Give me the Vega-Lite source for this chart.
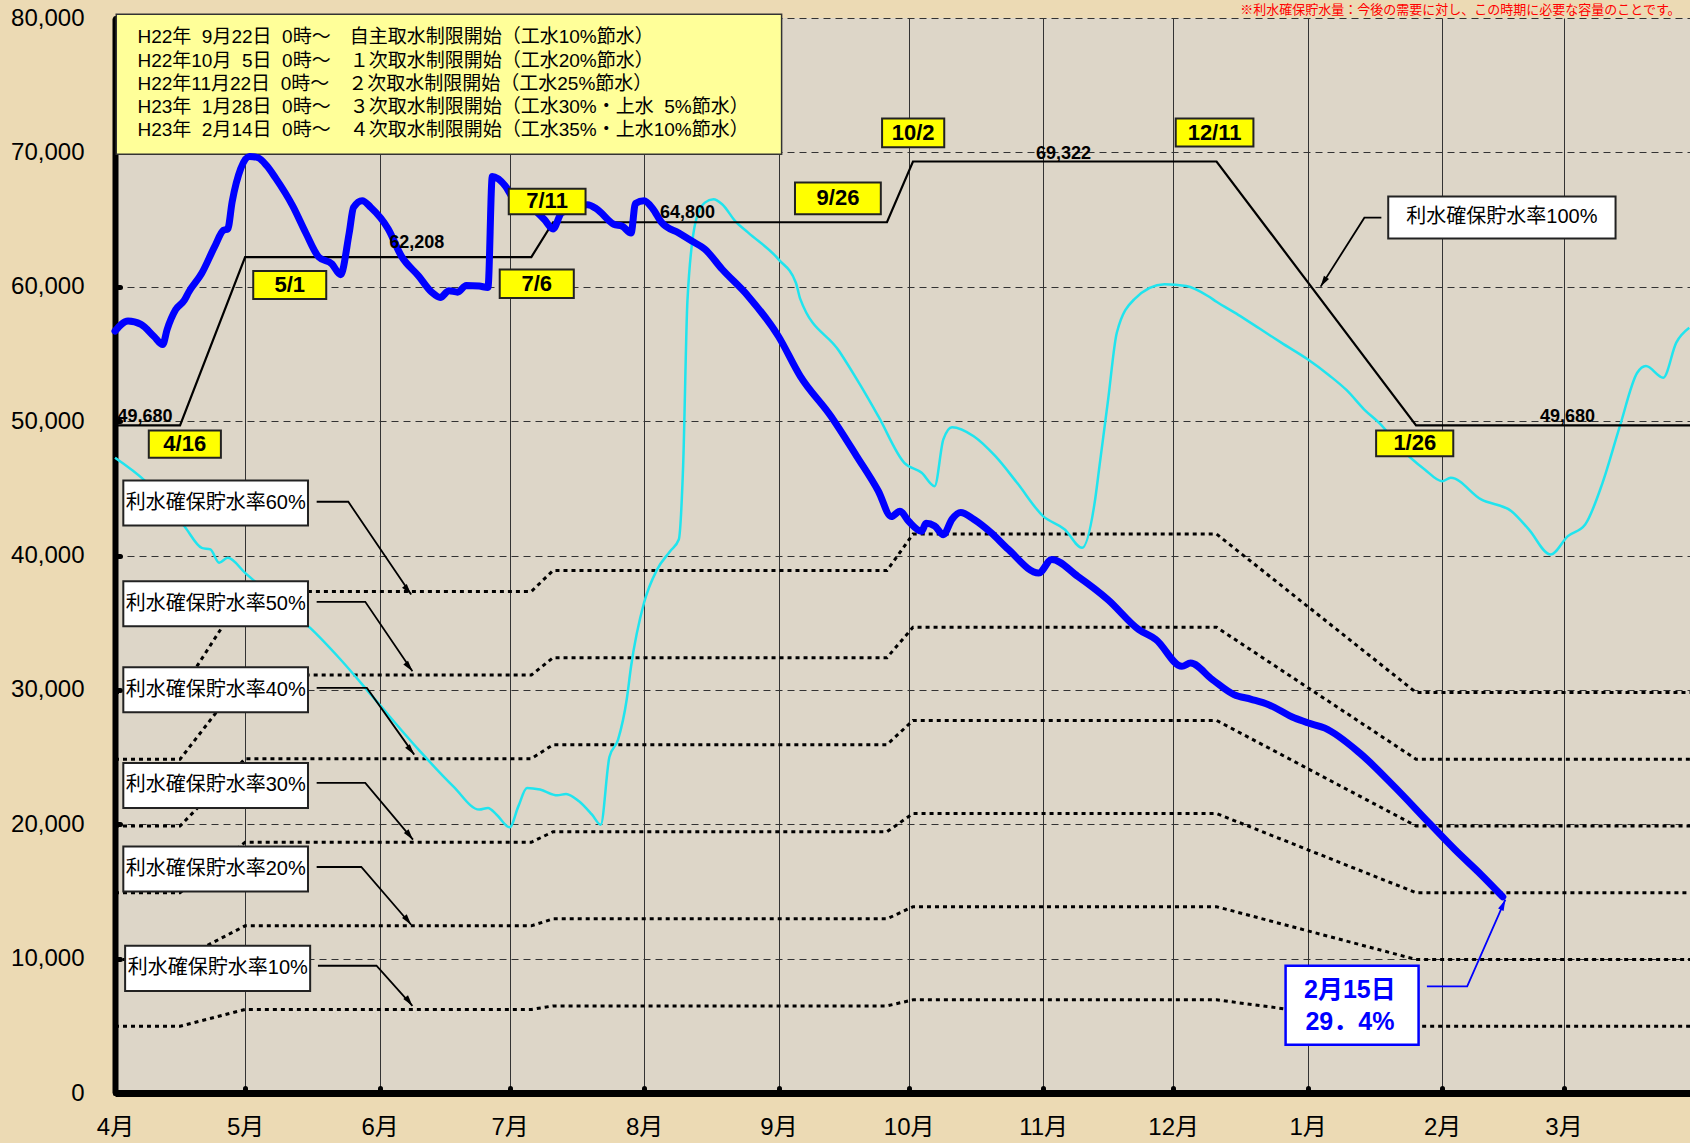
{
  "$schema": "https://vega.github.io/schema/vega-lite/v6.json",
  "width": 1575,
  "height": 1075,
  "autosize": {"type": "none"},
  "padding": {"left": 115, "top": 18, "right": 0, "bottom": 50},
  "background": "#ecdab4",
  "config": {
    "view": {"fill": "#ddd6c8", "stroke": null},
    "text": {"font": "'Liberation Sans', 'Noto Sans CJK JP', sans-serif"}
  },
  "datasets": {
    "cur": [
      {"date": "2010-04-01", "value": 56700}, {"date": "2010-04-04", "value": 57450}, {"date": "2010-04-07", "value": 57200},
      {"date": "2010-04-10", "value": 56300}, {"date": "2010-04-12", "value": 55700}, {"date": "2010-04-13", "value": 56800},
      {"date": "2010-04-15", "value": 58300}, {"date": "2010-04-17", "value": 59000}, {"date": "2010-04-18", "value": 59600},
      {"date": "2010-04-21", "value": 61000}, {"date": "2010-04-24", "value": 63000}, {"date": "2010-04-26", "value": 64200},
      {"date": "2010-04-27", "value": 64300}, {"date": "2010-04-28", "value": 66300}, {"date": "2010-04-30", "value": 68800},
      {"date": "2010-05-02", "value": 69700}, {"date": "2010-05-04", "value": 69600}, {"date": "2010-05-06", "value": 69000},
      {"date": "2010-05-08", "value": 68100}, {"date": "2010-05-12", "value": 66000}, {"date": "2010-05-15", "value": 64000},
      {"date": "2010-05-18", "value": 62200}, {"date": "2010-05-21", "value": 61700}, {"date": "2010-05-23", "value": 60900},
      {"date": "2010-05-25", "value": 64000}, {"date": "2010-05-26", "value": 65900}, {"date": "2010-05-28", "value": 66400},
      {"date": "2010-05-30", "value": 65900}, {"date": "2010-06-03", "value": 64300}, {"date": "2010-06-06", "value": 62300},
      {"date": "2010-06-10", "value": 60800}, {"date": "2010-06-13", "value": 59600}, {"date": "2010-06-15", "value": 59200},
      {"date": "2010-06-17", "value": 59700}, {"date": "2010-06-19", "value": 59600}, {"date": "2010-06-21", "value": 60100},
      {"date": "2010-06-24", "value": 60050}, {"date": "2010-06-26", "value": 59950}, {"date": "2010-06-27", "value": 68200},
      {"date": "2010-06-30", "value": 67500}, {"date": "2010-07-02", "value": 66500}, {"date": "2010-07-06", "value": 65900},
      {"date": "2010-07-09", "value": 65000}, {"date": "2010-07-11", "value": 64300}, {"date": "2010-07-13", "value": 65500},
      {"date": "2010-07-19", "value": 66100}, {"date": "2010-07-21", "value": 65800}, {"date": "2010-07-25", "value": 64650},
      {"date": "2010-07-27", "value": 64500}, {"date": "2010-07-29", "value": 64000}, {"date": "2010-07-30", "value": 66200},
      {"date": "2010-08-01", "value": 66400}, {"date": "2010-08-03", "value": 65800}, {"date": "2010-08-05", "value": 64800},
      {"date": "2010-08-09", "value": 64000}, {"date": "2010-08-12", "value": 63400}, {"date": "2010-08-15", "value": 62800},
      {"date": "2010-08-19", "value": 61300}, {"date": "2010-08-25", "value": 59300}, {"date": "2010-09-01", "value": 56300},
      {"date": "2010-09-06", "value": 53350}, {"date": "2010-09-13", "value": 50400}, {"date": "2010-09-19", "value": 47400},
      {"date": "2010-09-24", "value": 44800}, {"date": "2010-09-27", "value": 42900}, {"date": "2010-09-29", "value": 43300},
      {"date": "2010-10-01", "value": 42550}, {"date": "2010-10-04", "value": 41800}, {"date": "2010-10-05", "value": 42400},
      {"date": "2010-10-07", "value": 42200}, {"date": "2010-10-09", "value": 41550}, {"date": "2010-10-11", "value": 42700},
      {"date": "2010-10-13", "value": 43200}, {"date": "2010-10-16", "value": 42700}, {"date": "2010-10-20", "value": 41700},
      {"date": "2010-10-24", "value": 40450}, {"date": "2010-10-31", "value": 38700}, {"date": "2010-11-03", "value": 39700},
      {"date": "2010-11-09", "value": 38450}, {"date": "2010-11-16", "value": 36700}, {"date": "2010-11-23", "value": 34500},
      {"date": "2010-11-27", "value": 33750}, {"date": "2010-12-03", "value": 31750}, {"date": "2010-12-05", "value": 32000},
      {"date": "2010-12-10", "value": 30770}, {"date": "2010-12-15", "value": 29650}, {"date": "2010-12-19", "value": 29300},
      {"date": "2010-12-23", "value": 28900}, {"date": "2010-12-29", "value": 27900}, {"date": "2011-01-01", "value": 27550},
      {"date": "2011-01-05", "value": 27150}, {"date": "2011-01-13", "value": 25300}, {"date": "2011-01-21", "value": 22800},
      {"date": "2011-01-29", "value": 20100}, {"date": "2011-02-04", "value": 18100}, {"date": "2011-02-10", "value": 16250},
      {"date": "2011-02-15", "value": 14600}
    ],
    "prev": [
      {"date": "2010-04-01", "value": 47270}, {"date": "2010-04-08", "value": 45530}, {"date": "2010-04-17", "value": 42180},
      {"date": "2010-04-21", "value": 40570}, {"date": "2010-04-23", "value": 40450}, {"date": "2010-04-25", "value": 39460},
      {"date": "2010-04-27", "value": 39830}, {"date": "2010-05-01", "value": 38710}, {"date": "2010-05-08", "value": 36720},
      {"date": "2010-05-16", "value": 34610}, {"date": "2010-05-23", "value": 32260}, {"date": "2010-05-31", "value": 29270},
      {"date": "2010-06-10", "value": 25550}, {"date": "2010-06-18", "value": 22820}, {"date": "2010-06-24", "value": 21090},
      {"date": "2010-06-26", "value": 21210}, {"date": "2010-06-28", "value": 20710}, {"date": "2010-07-01", "value": 19770},
      {"date": "2010-07-03", "value": 21330}, {"date": "2010-07-05", "value": 22700}, {"date": "2010-07-08", "value": 22580},
      {"date": "2010-07-12", "value": 22150}, {"date": "2010-07-14", "value": 22260}, {"date": "2010-07-17", "value": 21710},
      {"date": "2010-07-20", "value": 20710}, {"date": "2010-07-22", "value": 19970}, {"date": "2010-07-24", "value": 25000},
      {"date": "2010-07-26", "value": 26300}, {"date": "2010-07-28", "value": 29300}, {"date": "2010-07-29", "value": 31760},
      {"date": "2010-08-01", "value": 36500}, {"date": "2010-08-04", "value": 38960}, {"date": "2010-08-07", "value": 40320},
      {"date": "2010-08-09", "value": 41190}, {"date": "2010-08-10", "value": 46650}, {"date": "2010-08-11", "value": 59000},
      {"date": "2010-08-13", "value": 65000}, {"date": "2010-08-15", "value": 66260}, {"date": "2010-08-17", "value": 66510},
      {"date": "2010-08-19", "value": 66140}, {"date": "2010-08-22", "value": 64890}, {"date": "2010-08-25", "value": 64030},
      {"date": "2010-09-01", "value": 62040}, {"date": "2010-09-05", "value": 60300}, {"date": "2010-09-06", "value": 59100},
      {"date": "2010-09-15", "value": 55200}, {"date": "2010-09-20", "value": 52600}, {"date": "2010-09-24", "value": 50370},
      {"date": "2010-09-30", "value": 46900}, {"date": "2010-10-04", "value": 46160}, {"date": "2010-10-07", "value": 45160},
      {"date": "2010-10-09", "value": 48640}, {"date": "2010-10-11", "value": 49550}, {"date": "2010-10-16", "value": 48880},
      {"date": "2010-10-21", "value": 47390}, {"date": "2010-10-26", "value": 45410}, {"date": "2010-11-01", "value": 42930},
      {"date": "2010-11-06", "value": 41940}, {"date": "2010-11-10", "value": 40570}, {"date": "2010-11-13", "value": 44170},
      {"date": "2010-11-14", "value": 46650}, {"date": "2010-11-16", "value": 51610}, {"date": "2010-11-18", "value": 56580},
      {"date": "2010-11-22", "value": 59060}, {"date": "2010-11-29", "value": 60180}, {"date": "2010-12-04", "value": 60050},
      {"date": "2010-12-09", "value": 59310}, {"date": "2010-12-11", "value": 58880}, {"date": "2010-12-16", "value": 57910},
      {"date": "2010-12-21", "value": 56870}, {"date": "2010-12-26", "value": 55820}, {"date": "2011-01-01", "value": 54600},
      {"date": "2011-01-06", "value": 53400}, {"date": "2011-01-10", "value": 52300}, {"date": "2011-01-14", "value": 50880},
      {"date": "2011-01-18", "value": 49700}, {"date": "2011-01-22", "value": 48140}, {"date": "2011-01-28", "value": 46400},
      {"date": "2011-02-01", "value": 45530}, {"date": "2011-02-03", "value": 45780}, {"date": "2011-02-10", "value": 44170},
      {"date": "2011-02-17", "value": 43300}, {"date": "2011-02-21", "value": 41940}, {"date": "2011-02-26", "value": 40070},
      {"date": "2011-03-02", "value": 41440}, {"date": "2011-03-06", "value": 42310}, {"date": "2011-03-10", "value": 45410},
      {"date": "2011-03-14", "value": 49630}, {"date": "2011-03-18", "value": 53600}, {"date": "2011-03-20", "value": 54100},
      {"date": "2011-03-24", "value": 53230}, {"date": "2011-03-27", "value": 55840}, {"date": "2011-03-30", "value": 56950}
    ],
    "req": [
      {"date": "2010-04-01", "pct": 100, "value": 49680}, {"date": "2010-04-16", "pct": 100, "value": 49680},
      {"date": "2010-05-01", "pct": 100, "value": 62208}, {"date": "2010-07-06", "pct": 100, "value": 62208},
      {"date": "2010-07-11", "pct": 100, "value": 64800}, {"date": "2010-09-26", "pct": 100, "value": 64800},
      {"date": "2010-10-02", "pct": 100, "value": 69322}, {"date": "2010-12-11", "pct": 100, "value": 69322},
      {"date": "2011-01-26", "pct": 100, "value": 49680}, {"date": "2011-03-31", "pct": 100, "value": 49680},
      {"date": "2010-04-01", "pct": 60, "value": 29808}, {"date": "2010-04-16", "pct": 60, "value": 29808},
      {"date": "2010-05-01", "pct": 60, "value": 37325}, {"date": "2010-07-06", "pct": 60, "value": 37325},
      {"date": "2010-07-11", "pct": 60, "value": 38880}, {"date": "2010-09-26", "pct": 60, "value": 38880},
      {"date": "2010-10-02", "pct": 60, "value": 41593}, {"date": "2010-12-11", "pct": 60, "value": 41593},
      {"date": "2011-01-26", "pct": 60, "value": 29808}, {"date": "2011-03-31", "pct": 60, "value": 29808},
      {"date": "2010-04-01", "pct": 50, "value": 24840}, {"date": "2010-04-16", "pct": 50, "value": 24840},
      {"date": "2010-05-01", "pct": 50, "value": 31104}, {"date": "2010-07-06", "pct": 50, "value": 31104},
      {"date": "2010-07-11", "pct": 50, "value": 32400}, {"date": "2010-09-26", "pct": 50, "value": 32400},
      {"date": "2010-10-02", "pct": 50, "value": 34661}, {"date": "2010-12-11", "pct": 50, "value": 34661},
      {"date": "2011-01-26", "pct": 50, "value": 24840}, {"date": "2011-03-31", "pct": 50, "value": 24840},
      {"date": "2010-04-01", "pct": 40, "value": 19872}, {"date": "2010-04-16", "pct": 40, "value": 19872},
      {"date": "2010-05-01", "pct": 40, "value": 24883}, {"date": "2010-07-06", "pct": 40, "value": 24883},
      {"date": "2010-07-11", "pct": 40, "value": 25920}, {"date": "2010-09-26", "pct": 40, "value": 25920},
      {"date": "2010-10-02", "pct": 40, "value": 27729}, {"date": "2010-12-11", "pct": 40, "value": 27729},
      {"date": "2011-01-26", "pct": 40, "value": 19872}, {"date": "2011-03-31", "pct": 40, "value": 19872},
      {"date": "2010-04-01", "pct": 30, "value": 14904}, {"date": "2010-04-16", "pct": 30, "value": 14904},
      {"date": "2010-05-01", "pct": 30, "value": 18662}, {"date": "2010-07-06", "pct": 30, "value": 18662},
      {"date": "2010-07-11", "pct": 30, "value": 19440}, {"date": "2010-09-26", "pct": 30, "value": 19440},
      {"date": "2010-10-02", "pct": 30, "value": 20797}, {"date": "2010-12-11", "pct": 30, "value": 20797},
      {"date": "2011-01-26", "pct": 30, "value": 14904}, {"date": "2011-03-31", "pct": 30, "value": 14904},
      {"date": "2010-04-01", "pct": 20, "value": 9936}, {"date": "2010-04-16", "pct": 20, "value": 9936},
      {"date": "2010-05-01", "pct": 20, "value": 12442}, {"date": "2010-07-06", "pct": 20, "value": 12442},
      {"date": "2010-07-11", "pct": 20, "value": 12960}, {"date": "2010-09-26", "pct": 20, "value": 12960},
      {"date": "2010-10-02", "pct": 20, "value": 13864}, {"date": "2010-12-11", "pct": 20, "value": 13864},
      {"date": "2011-01-26", "pct": 20, "value": 9936}, {"date": "2011-03-31", "pct": 20, "value": 9936},
      {"date": "2010-04-01", "pct": 10, "value": 4968}, {"date": "2010-04-16", "pct": 10, "value": 4968},
      {"date": "2010-05-01", "pct": 10, "value": 6221}, {"date": "2010-07-06", "pct": 10, "value": 6221},
      {"date": "2010-07-11", "pct": 10, "value": 6480}, {"date": "2010-09-26", "pct": 10, "value": 6480},
      {"date": "2010-10-02", "pct": 10, "value": 6932}, {"date": "2010-12-11", "pct": 10, "value": 6932},
      {"date": "2011-01-26", "pct": 10, "value": 4968}, {"date": "2011-03-31", "pct": 10, "value": 4968}
    ],
    "tags": [
      {"label": "4/16", "date": "2010-04-08T19:00:00Z", "date2": "2010-04-25T10:00:00Z", "value": 49310, "value2": 47270, "cdate": "2010-04-17T02:00:00Z", "cvalue": 48290},
      {"label": "5/1", "date": "2010-05-02T21:00:00Z", "date2": "2010-05-19T17:00:00Z", "value": 61180, "value2": 59090, "cdate": "2010-05-11T07:00:00Z", "cvalue": 60135},
      {"label": "7/6", "date": "2010-06-28T17:00:00Z", "date2": "2010-07-15T19:00:00Z", "value": 61290, "value2": 59170, "cdate": "2010-07-07T06:00:00Z", "cvalue": 60230},
      {"label": "7/11", "date": "2010-06-30T19:00:00Z", "date2": "2010-07-18T12:00:00Z", "value": 67300, "value2": 65390, "cdate": "2010-07-09T15:00:00Z", "cvalue": 66345},
      {"label": "9/26", "date": "2010-09-04T19:00:00Z", "date2": "2010-09-24T14:00:00Z", "value": 67750, "value2": 65390, "cdate": "2010-09-14T17:00:00Z", "cvalue": 66570},
      {"label": "10/2", "date": "2010-09-24T21:00:00Z", "date2": "2010-10-09T05:00:00Z", "value": 72520, "value2": 70380, "cdate": "2010-10-02T01:00:00Z", "cvalue": 71450},
      {"label": "12/11", "date": "2010-12-01T14:00:00Z", "date2": "2010-12-19T12:00:00Z", "value": 72520, "value2": 70430, "cdate": "2010-12-10T13:00:00Z", "cvalue": 71475},
      {"label": "1/26", "date": "2011-01-16T19:00:00Z", "date2": "2011-02-03T14:00:00Z", "value": 49310, "value2": 47390, "cdate": "2011-01-25T17:00:00Z", "cvalue": 48350}
    ],
    "notes": [
      {"label": "利水確保貯水率60%", "date": "2010-04-02T22:00:00Z", "date2": "2010-05-15T12:00:00Z", "value": 45590, "value2": 42240, "cdate": "2010-04-24T05:00:00Z", "cvalue": 43915},
      {"label": "利水確保貯水率50%", "date": "2010-04-02T22:00:00Z", "date2": "2010-05-15T12:00:00Z", "value": 38090, "value2": 34740, "cdate": "2010-04-24T05:00:00Z", "cvalue": 36415},
      {"label": "利水確保貯水率40%", "date": "2010-04-02T22:00:00Z", "date2": "2010-05-15T12:00:00Z", "value": 31680, "value2": 28330, "cdate": "2010-04-24T05:00:00Z", "cvalue": 30005},
      {"label": "利水確保貯水率30%", "date": "2010-04-02T22:00:00Z", "date2": "2010-05-15T12:00:00Z", "value": 24560, "value2": 21210, "cdate": "2010-04-24T05:00:00Z", "cvalue": 22885},
      {"label": "利水確保貯水率20%", "date": "2010-04-02T22:00:00Z", "date2": "2010-05-15T12:00:00Z", "value": 18350, "value2": 15000, "cdate": "2010-04-24T05:00:00Z", "cvalue": 16675},
      {"label": "利水確保貯水率10%", "date": "2010-04-03T08:00:00Z", "date2": "2010-05-16T00:00:00Z", "value": 10960, "value2": 7600, "cdate": "2010-04-24T17:00:00Z", "cvalue": 9280},
      {"label": "利水確保貯水率100%", "date": "2011-01-19T14:00:00Z", "date2": "2011-03-13T00:00:00Z", "value": 66710, "value2": 63600, "cdate": "2011-02-14T19:00:00Z", "cvalue": 65155}
    ],
    "vals": [
      {"label": "49,680", "date": "2010-04-07T22:00:00Z", "value": 50330},
      {"label": "62,208", "date": "2010-06-09T14:00:00Z", "value": 63280},
      {"label": "64,800", "date": "2010-08-11T00:00:00Z", "value": 65520},
      {"label": "69,322", "date": "2010-11-05T17:00:00Z", "value": 69910},
      {"label": "49,680", "date": "2011-03-01T22:00:00Z", "value": 50330}
    ],
    "legend": [
      {"date": "2010-04-01T07:00:00Z", "date2": "2010-09-01T17:00:00Z", "value": 80280, "value2": 69860, "cdate": "2010-04-06T04:00:00Z", "cvalue": 78550,
       "lines": ["H22年\u00a0\u00a09月22日\u00a0\u00a00時～　自主取水制限開始（工水10%節水）", "H22年10月\u00a0\u00a05日\u00a0\u00a00時～　１次取水制限開始（工水20%節水）", "H22年11月22日\u00a0\u00a00時～　２次取水制限開始（工水25%節水）", "H23年\u00a0\u00a01月28日\u00a0\u00a00時～　３次取水制限開始（工水30%・上水\u00a0\u00a05%節水）", "H23年\u00a0\u00a02月14日\u00a0\u00a00時～　４次取水制限開始（工水35%・上水10%節水）"]}
    ],
    "feb": [
      {"date": "2010-12-26T22:00:00Z", "date2": "2011-01-26T14:00:00Z", "value": 9470, "value2": 3590, "cdate": "2011-01-10T18:00:00Z", "cvalue": 7690, "lines": ["2月15日", "29．4%"]}
    ],
    "note": [
      {"label": "※利水確保貯水量：今後の需要に対し、この時期に必要な容量のことです。", "date": "2011-03-28T00:00:00Z", "value": 80300}
    ],
    "arrows": [
      {"id": "a60", "ord": 1, "date": "2010-05-17T12:00:00Z", "value": 44000}, {"id": "a60", "ord": 2, "date": "2010-05-24T19:00:00Z", "value": 44000}, {"id": "a60", "ord": 3, "date": "2010-06-08T07:00:00Z", "value": 37100},
      {"id": "a50", "ord": 1, "date": "2010-05-17T12:00:00Z", "value": 36550}, {"id": "a50", "ord": 2, "date": "2010-05-28T17:00:00Z", "value": 36550}, {"id": "a50", "ord": 3, "date": "2010-06-08T14:00:00Z", "value": 31390},
      {"id": "a40", "ord": 1, "date": "2010-05-17T12:00:00Z", "value": 30150}, {"id": "a40", "ord": 2, "date": "2010-05-29T02:00:00Z", "value": 30150}, {"id": "a40", "ord": 3, "date": "2010-06-09T00:00:00Z", "value": 25180},
      {"id": "a30", "ord": 1, "date": "2010-05-17T12:00:00Z", "value": 23080}, {"id": "a30", "ord": 2, "date": "2010-05-28T17:00:00Z", "value": 23080}, {"id": "a30", "ord": 3, "date": "2010-06-08T17:00:00Z", "value": 18850},
      {"id": "a20", "ord": 1, "date": "2010-05-17T12:00:00Z", "value": 16820}, {"id": "a20", "ord": 2, "date": "2010-05-27T19:00:00Z", "value": 16820}, {"id": "a20", "ord": 3, "date": "2010-06-08T07:00:00Z", "value": 12520},
      {"id": "a10", "ord": 1, "date": "2010-05-17T19:00:00Z", "value": 9470}, {"id": "a10", "ord": 2, "date": "2010-05-31T07:00:00Z", "value": 9470}, {"id": "a10", "ord": 3, "date": "2010-06-08T14:00:00Z", "value": 6490},
      {"id": "a100", "ord": 1, "date": "2011-01-18T00:00:00Z", "value": 65140}, {"id": "a100", "ord": 2, "date": "2011-01-14T02:00:00Z", "value": 65140}, {"id": "a100", "ord": 3, "date": "2011-01-04T00:00:00Z", "value": 60010},
      {"id": "blue", "ord": 1, "date": "2011-01-28T12:00:00Z", "value": 7930}, {"id": "blue", "ord": 2, "date": "2011-02-06T19:00:00Z", "value": 7930}, {"id": "blue", "ord": 3, "date": "2011-02-15T14:00:00Z", "value": 14390}
    ]
  },
  "encoding": {
    "x": {
      "field": "date", "type": "temporal", "title": null,
      "scale": {"domain": [{"year": 2010, "month": 4, "date": 1, "utc": true}, {"year": 2011, "month": 3, "date": 30, "hours": 4, "utc": true}]},
      "axis": {
        "values": [
          {"year": 2010, "month": 4, "date": 1, "utc": true}, {"year": 2010, "month": 5, "date": 1, "utc": true},
          {"year": 2010, "month": 6, "date": 1, "utc": true}, {"year": 2010, "month": 7, "date": 1, "utc": true},
          {"year": 2010, "month": 8, "date": 1, "utc": true}, {"year": 2010, "month": 9, "date": 1, "utc": true},
          {"year": 2010, "month": 10, "date": 1, "utc": true}, {"year": 2010, "month": 11, "date": 1, "utc": true},
          {"year": 2010, "month": 12, "date": 1, "utc": true}, {"year": 2011, "month": 1, "date": 1, "utc": true},
          {"year": 2011, "month": 2, "date": 1, "utc": true}, {"year": 2011, "month": 3, "date": 1, "utc": true}
        ],
        "labelExpr": "utcFormat(datum.value, '%-m') + '月'",
        "labelFont": "'Liberation Sans', 'Noto Sans CJK JP', sans-serif",
        "labelFontSize": 24, "labelColor": "#000", "labelPadding": 39, "labelBaseline": "middle",
        "labelFlush": false, "labelOverlap": false,
        "domainColor": "#000", "domainWidth": 7,
        "tickColor": "#000", "tickWidth": 5, "tickSize": -5, "tickCap": "round",
        "grid": true, "gridColor": "#333", "gridWidth": 1
      }
    },
    "y": {
      "field": "value", "type": "quantitative", "title": null,
      "scale": {"domain": [0, 80000]},
      "axis": {
        "values": [0, 10000, 20000, 30000, 40000, 50000, 60000, 70000, 80000],
        "format": ",d",
        "labelFont": "'Liberation Sans', sans-serif",
        "labelFontSize": 24, "labelColor": "#000", "labelPadding": 36,
        "domainColor": "#000", "domainWidth": 6,
        "tickColor": "#000", "tickWidth": 5, "tickSize": -5, "tickCap": "round",
        "grid": true, "gridColor": "#333", "gridWidth": 1, "gridDash": [7, 5]
      }
    }
  },
  "layer": [
    {
      "data": {"name": "legend"},
      "mark": {"type": "rect", "fill": "#ffff99", "stroke": "#333", "strokeWidth": 1.5},
      "encoding": {"x2": {"field": "date2"}, "y2": {"field": "value2"}}
    },
    {
      "data": {"name": "legend"},
      "mark": {"type": "text", "align": "left", "baseline": "middle", "fontSize": 19, "lineHeight": 23.2, "color": "#000"},
      "encoding": {
        "x": {"field": "cdate", "type": "temporal", "title": null},
        "y": {"field": "cvalue", "type": "quantitative", "title": null},
        "text": {"field": "lines"}
      }
    },
    {
      "data": {"name": "req"},
      "transform": [{"filter": "datum.pct < 100"}],
      "mark": {"type": "line", "color": "#000", "strokeWidth": 3, "strokeDash": [4, 4]},
      "encoding": {"detail": {"field": "pct"}}
    },
    {
      "data": {"name": "prev"},
      "mark": {"type": "line", "color": "#20e4ee", "strokeWidth": 2.5, "interpolate": "monotone"},
      "encoding": {}
    },
    {
      "data": {"name": "req"},
      "transform": [{"filter": "datum.pct == 100"}],
      "mark": {"type": "line", "color": "#000", "strokeWidth": 2.2},
      "encoding": {}
    },
    {
      "data": {"name": "cur"},
      "mark": {"type": "line", "color": "#0000ff", "strokeWidth": 7, "interpolate": "monotone", "strokeCap": "round", "strokeJoin": "round"},
      "encoding": {}
    },
    {
      "data": {"name": "notes"},
      "mark": {"type": "rect", "fill": "#ffffff", "stroke": "#222", "strokeWidth": 2},
      "encoding": {"x2": {"field": "date2"}, "y2": {"field": "value2"}}
    },
    {
      "data": {"name": "notes"},
      "mark": {"type": "text", "align": "center", "baseline": "middle", "fontSize": 20, "color": "#000"},
      "encoding": {
        "x": {"field": "cdate", "type": "temporal", "title": null},
        "y": {"field": "cvalue", "type": "quantitative", "title": null},
        "text": {"field": "label"}
      }
    },
    {
      "data": {"name": "arrows"},
      "mark": {"type": "line", "strokeWidth": 1.8},
      "encoding": {
        "detail": {"field": "id"},
        "order": {"field": "ord"},
        "color": {"condition": {"test": "datum.id === 'blue'", "value": "#0000ff"}, "value": "#000"}
      }
    },
    {
      "data": {"name": "arrows"},
      "transform": [{"filter": "datum.ord == 3"}],
      "mark": {"type": "point", "shape": "M0,0L0.6,2.2L-0.6,2.2Z", "size": 100, "filled": true, "opacity": 1, "strokeWidth": 0},
      "encoding": {
        "color": {"condition": {"test": "datum.id === 'blue'", "value": "#0000ff"}, "value": "#000"},
        "angle": {"condition": [{"test": "datum.id === 'a100'", "value": 212}, {"test": "datum.id === 'blue'", "value": 24}], "value": 142}
      }
    },
    {
      "data": {"name": "tags"},
      "mark": {"type": "rect", "fill": "#ffff00", "stroke": "#222", "strokeWidth": 2},
      "encoding": {"x2": {"field": "date2"}, "y2": {"field": "value2"}}
    },
    {
      "data": {"name": "tags"},
      "mark": {"type": "text", "align": "center", "baseline": "middle", "fontSize": 22, "fontWeight": "bold", "color": "#000"},
      "encoding": {
        "x": {"field": "cdate", "type": "temporal", "title": null},
        "y": {"field": "cvalue", "type": "quantitative", "title": null},
        "text": {"field": "label"}
      }
    },
    {
      "data": {"name": "vals"},
      "mark": {"type": "text", "align": "center", "baseline": "middle", "fontSize": 18, "fontWeight": "bold", "color": "#000"},
      "encoding": {"text": {"field": "label"}}
    },
    {
      "data": {"name": "feb"},
      "mark": {"type": "rect", "fill": "#ffffff", "stroke": "#0000ff", "strokeWidth": 2.5},
      "encoding": {"x2": {"field": "date2"}, "y2": {"field": "value2"}}
    },
    {
      "data": {"name": "feb"},
      "mark": {"type": "text", "align": "center", "baseline": "middle", "fontSize": 25, "fontWeight": "bold", "lineHeight": 32, "color": "#0000ff"},
      "encoding": {
        "x": {"field": "cdate", "type": "temporal", "title": null},
        "y": {"field": "cvalue", "type": "quantitative", "title": null},
        "text": {"field": "lines"}
      }
    },
    {
      "data": {"values": [{}]},
      "mark": {"type": "rule", "color": "#8a8a8a", "strokeWidth": 6},
      "encoding": {"y": {"datum": 80000}}
    },
    {
      "data": {"name": "note"},
      "mark": {"type": "text", "align": "right", "baseline": "alphabetic", "fontSize": 13, "color": "#ff0000", "font": "'Noto Sans CJK JP', sans-serif"},
      "encoding": {"text": {"field": "label"}}
    }
  ]
}
